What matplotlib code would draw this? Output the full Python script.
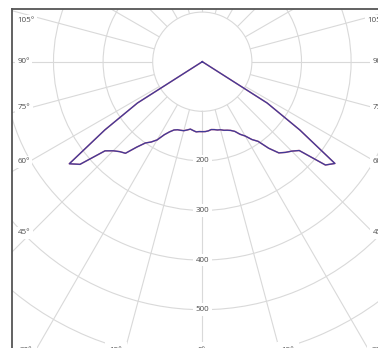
import numpy as np
import matplotlib
matplotlib.use("Agg")
import matplotlib.pyplot as plt
from matplotlib.lines import Line2D
from matplotlib.patches import Rectangle

plt.rcParams['font.family'] = ['Open Sans', 'DejaVu Sans']

# luminous intensity (cd) vs gamma angle
gamma = [0, 2.5, 5, 7.5, 10, 12.5, 15, 17.5, 20, 22.5, 25, 27.5, 30, 32.5,
         35, 37.5, 40, 42.5, 45, 47.5, 50, 52.5, 55, 57.5, 60, 180]
right_side = [141, 141, 140, 138, 139, 141, 142, 145, 147, 150, 155, 165, 173, 186,
              196, 220, 240, 248, 255, 265, 324, 337, 240, 155, 0, 0]
left_side = [141, 141, 142, 140, 138, 141, 144, 145, 146, 149, 156, 166, 182, 192,
             200, 217, 241, 246, 254, 266, 322, 338, 240, 155, 0, 0]

r_ticks = [200, 300, 400, 500, 600, 700, 800, 900]
r_labels = ['200', '300', '400', '500']
angle_labels = ['105°', '90°', '75°', '60°', '45°']
angle_label_y = [20.7, 61.7, 107.7, 161.7, 232.7]   # px from top
bottom_labels = ['30°', '15°', '0°', '15°', '30°']
bottom_label_x = [26, 116, 202, 288, 378]

W, H = 378, 348
fig = plt.figure(figsize=(W / 100, H / 100), dpi=100)

# big polar axes, only the upper part of it is visible
cx, cy = 202.3, 61.7
rmax = 1000
rad_px = 496
ax = fig.add_axes([(cx - rad_px) / W, (H - cy - rad_px) / H, 2 * rad_px / W, 2 * rad_px / H],
                  projection='polar')
ax.set_theta_zero_location('S')
ax.set_ylim(100, rmax)
ax.set_rorigin(0)
ax.set_xticks(np.deg2rad(np.arange(0, 360, 15)))
ax.set_xticklabels([])
ax.set_yticks(r_ticks)
ax.set_yticklabels([])
ax.grid(True, color='#d9d9d9', linewidth=0.8)
ax.spines['polar'].set_visible(False)
ax.spines['inner'].set_color('#d9d9d9')
ax.spines['inner'].set_linewidth(0.8)
ax.tick_params(length=0)

g = np.deg2rad(np.array(gamma))
theta = np.concatenate([-g[::-1], g[1:]])
r = np.concatenate([np.array(left_side)[::-1], np.array(right_side)[1:]])

ax.plot(theta, r, color='#d0708e', lw=1.1, clip_on=False, zorder=3)
ax.plot(theta, r, color='#3f3a98', lw=0.9, clip_on=False, zorder=4)

for lab in r_labels:
    ax.text(0, int(lab), lab, ha='center', va='center', fontsize=5.8, color='#4d4d4d',
            bbox=dict(boxstyle='square,pad=0.35', fc='white', ec='none'), zorder=5)

# mask outside the frame
fig.add_artist(Rectangle((0, 1 - 9.3 / H), 1, 9.3 / H, transform=fig.transFigure,
                         fc='white', ec='none', zorder=5))
fig.add_artist(Rectangle((0, 0), 12.3 / W, 1, transform=fig.transFigure,
                         fc='white', ec='none', zorder=5))

for lab, y in zip(angle_labels, angle_label_y):
    fig.text(17.5 / W, 1 - y / H, lab, ha='left', va='center', fontsize=5.8, color='#4d4d4d',
             bbox=dict(boxstyle='square,pad=0.3', fc='white', ec='none'), zorder=6)
    fig.text(385 / W, 1 - y / H, lab, ha='right', va='center', fontsize=5.8, color='#4d4d4d',
             bbox=dict(boxstyle='square,pad=0.3', fc='white', ec='none'), zorder=6)

for lab, x in zip(bottom_labels, bottom_label_x):
    fig.text(x / W, 1 - 346.5 / H, lab, ha='center', va='top', fontsize=5.8, color='#4d4d4d',
             bbox=dict(boxstyle='square,pad=0.6', fc='white', ec='none'), zorder=6)

# frame lines top and left
fig.add_artist(Line2D([12.3 / W, 1], [1 - 9.3 / H, 1 - 9.3 / H], transform=fig.transFigure,
                      color='#555555', lw=1.3, zorder=7))
fig.add_artist(Line2D([12.3 / W, 12.3 / W], [0, 1 - 9.3 / H], transform=fig.transFigure,
                      color='#555555', lw=1.3, zorder=7))

fig.savefig('out.png', dpi=100)
